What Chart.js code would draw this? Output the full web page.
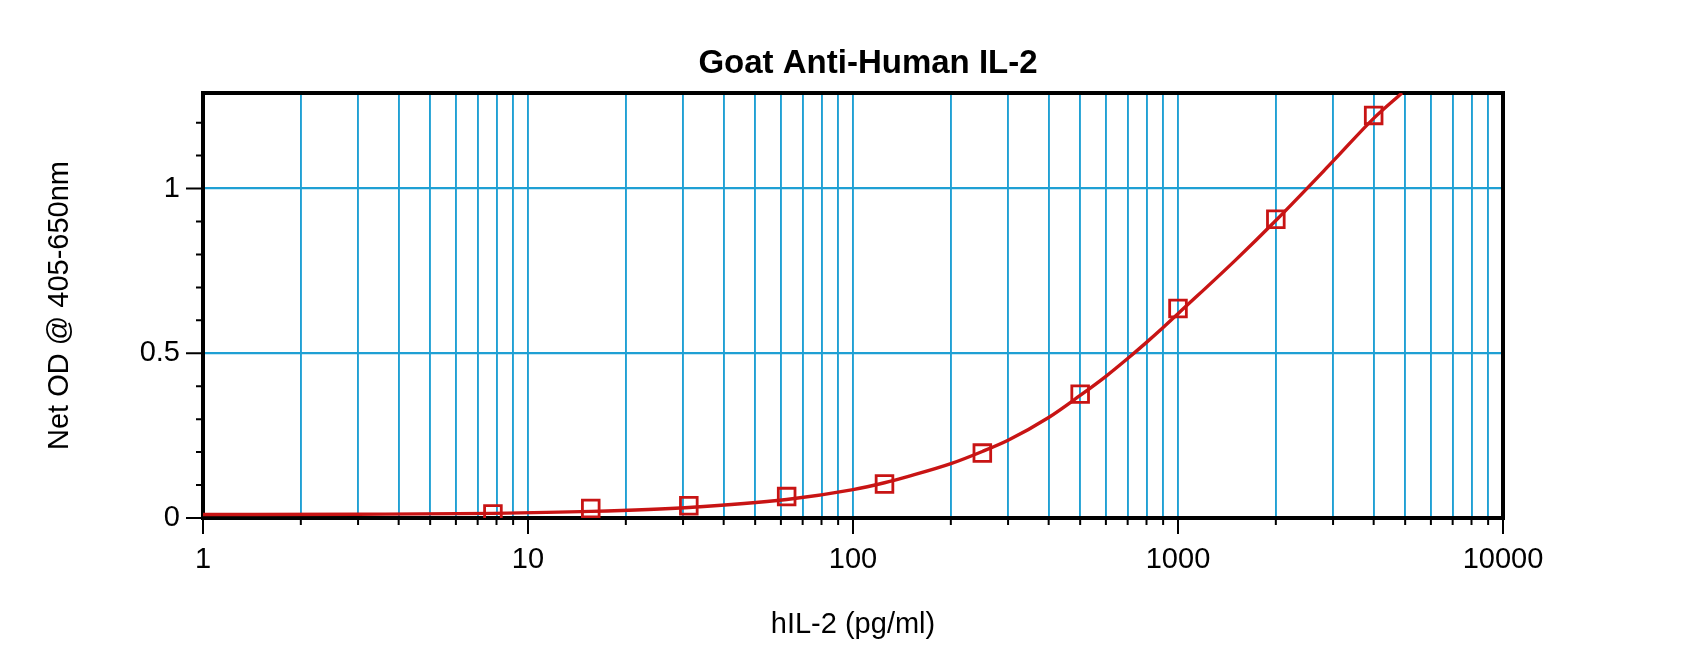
<!DOCTYPE html>
<html>
<head>
<meta charset="utf-8">
<title>Goat Anti-Human IL-2</title>
<script src="https://cdn.jsdelivr.net/npm/chart.js@4.4.1/dist/chart.umd.min.js"></script>
<style>
  body { margin: 0; background: #fff; }
  canvas { display: block; }
</style>
</head>
<body>
<canvas id="grafica" width="1700" height="663"></canvas>
<script>
// standards (pg/ml) and measured net OD
const concentraciones = [7.8, 15.6, 31.25, 62.5, 125, 250, 500, 1000, 2000, 4000];
const densidades = [0.012, 0.029, 0.037, 0.065, 0.103, 0.197, 0.376, 0.636, 0.907, 1.222];

// fitted curve
const curvaX = [1, 3, 7.8, 15.6, 31.25, 62.5, 100, 125, 150, 200, 250, 300, 400, 500, 600, 700, 800, 900, 1000, 1500, 2000, 3000, 4000, 4890];
const curvaY = [0.0105, 0.0115, 0.014, 0.020, 0.032, 0.056, 0.086, 0.107, 0.128, 0.165, 0.202, 0.236, 0.305, 0.372, 0.43, 0.484, 0.533, 0.578, 0.62, 0.782, 0.903, 1.083, 1.213, 1.29];

// ticks
const xDecadas = [1, 10, 100, 1000, 10000];
const xTicks = [1, 2, 3, 4, 5, 6, 7, 8, 9, 10, 20, 30, 40, 50, 60, 70, 80, 90,
  100, 200, 300, 400, 500, 600, 700, 800, 900, 1000, 2000, 3000, 4000, 5000, 6000, 7000, 8000, 9000, 10000];
const yTicks = [0, 0.1, 0.2, 0.3, 0.4, 0.5, 0.6, 0.7, 0.8, 0.9, 1, 1.1, 1.2];
const yEtiquetas = [0, 0.5, 1];

const azul = '#1fa0d4';
const rojo = '#c81414';

Chart.defaults.font.family = '"Liberation Sans", Arial, sans-serif';
Chart.defaults.color = '#000';

// box round the plot and the tick marks (long at labelled values, short elsewhere)
const marco = {
  id: 'marco',
  beforeDatasetsDraw(chart) {
    const { ctx, chartArea: a, scales: { x, y } } = chart;
    ctx.save();
    ctx.strokeStyle = '#000';
    ctx.lineWidth = 2;
    ctx.beginPath();
    xTicks.forEach(v => {
      const px = x.getPixelForValue(v);
      ctx.moveTo(px, a.bottom);
      ctx.lineTo(px, a.bottom + (xDecadas.includes(v) ? 16 : 7));
    });
    yTicks.forEach(v => {
      const py = y.getPixelForValue(v);
      ctx.moveTo(a.left, py);
      ctx.lineTo(a.left - (yEtiquetas.includes(v) ? 17 : 7), py);
    });
    ctx.stroke();
    ctx.lineWidth = 4;
    ctx.strokeRect(a.left, a.top, a.right - a.left, a.bottom - a.top);
    ctx.restore();
  }
};

new Chart(document.getElementById('grafica'), {
  type: 'line',
  data: {
    datasets: [
      {
        data: concentraciones.map((c, i) => ({ x: c, y: densidades[i] })),
        showLine: false,
        pointStyle: 'rect',
        pointRadius: 11.8,
        pointBorderWidth: 2.8,
        pointBorderColor: rojo,
        pointBackgroundColor: 'rgba(0,0,0,0)'
      },
      {
        data: curvaX.map((c, i) => ({ x: c, y: curvaY[i] })),
        borderColor: rojo,
        borderWidth: 3.4,
        pointRadius: 0,
        cubicInterpolationMode: 'monotone'
      }
    ]
  },
  options: {
    responsive: false,
    devicePixelRatio: 1,
    animation: false,
    layout: { padding: { left: 36, right: 0, top: 0, bottom: 0 } },
    plugins: {
      legend: { display: false },
      tooltip: { enabled: false },
      title: {
        display: true,
        text: 'Goat Anti-Human IL-2',
        color: '#000',
        font: { size: 33, weight: 'bold' },
        padding: { top: 44, bottom: 9.4 }
      }
    },
    scales: {
      x: {
        type: 'logarithmic',
        min: 1,
        max: 10000,
        afterBuildTicks: s => { s.ticks = xTicks.map(v => ({ value: v })); },
        afterFit: s => { s.height = 145; },
        grid: { color: azul, lineWidth: 1.9, drawTicks: false },
        border: { display: false },
        ticks: {
          autoSkip: false,
          maxRotation: 0,
          padding: 25,
          font: { size: 29 },
          callback: v => xDecadas.includes(v) ? String(v) : ''
        },
        title: {
          display: true,
          text: 'hIL-2 (pg/ml)',
          font: { size: 29 },
          padding: { top: 0, bottom: 20.6 }
        }
      },
      y: {
        min: 0,
        max: 1.29,
        afterBuildTicks: s => { s.ticks = yTicks.map(v => ({ value: v })); },
        afterFit: s => { s.width = 167; },
        grid: {
          drawTicks: false,
          lineWidth: 2.2,
          color: c => (c.tick && c.tick.value > 0 && yEtiquetas.includes(c.tick.value)) ? azul : 'rgba(0,0,0,0)'
        },
        border: { display: false },
        ticks: {
          autoSkip: false,
          padding: 23,
          font: { size: 29 },
          callback: v => yEtiquetas.includes(v) ? String(v) : ''
        },
        title: {
          display: true,
          text: 'Net OD @ 405-650nm',
          font: { size: 29 },
          padding: { top: 6.6, bottom: 0 }
        }
      },
      y2: {
        position: 'right',
        afterFit: s => { s.width = 197; },
        grid: { display: false },
        ticks: { display: false },
        border: { display: false }
      }
    }
  },
  plugins: [marco]
});
</script>
</body>
</html>
